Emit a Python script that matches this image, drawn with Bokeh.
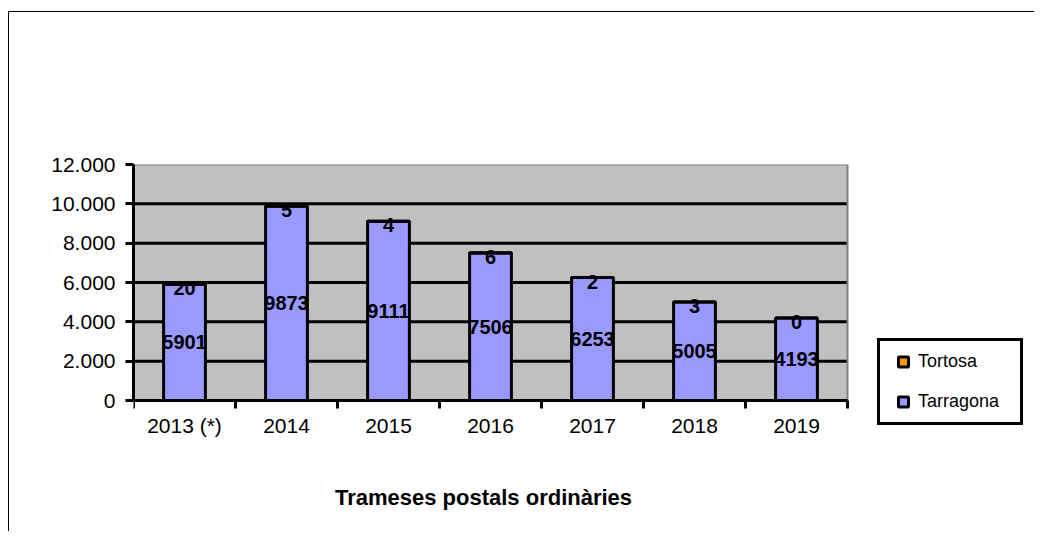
from bokeh.plotting import figure
from bokeh.models import (ColumnDataSource, Range1d, FixedTicker, Legend, LegendItem,
                          Label, LinearAxis)
from bokeh.core.properties import value
from bokeh.embed import file_html
from bokeh.resources import INLINE

categories = ["2013 (*)", "2014", "2015", "2016", "2017", "2018", "2019"]
tarragona = [5901, 9873, 9111, 7506, 6253, 5005, 4193]
tortosa = [20, 5, 4, 6, 2, 3, 0]
y_ticks = [0, 2000, 4000, 6000, 8000, 10000, 12000]
y_tick_labels = ["0", "2.000", "4.000", "6.000", "8.000", "10.000", "12.000"]
title_text = "Trameses postals ordinàries"

FONT = "Liberation Sans"
n = len(categories)
y_max = y_ticks[-1]
xs = [i + 0.5 for i in range(n)]
totals = [a + b for a, b in zip(tarragona, tortosa)]

src = ColumnDataSource(dict(
    x=xs,
    tarr=tarragona,
    tort=tortosa,
    total=totals,
    tarr_mid=[a / 2 for a in tarragona],
    tort_mid=[a + b / 2 for a, b in zip(tarragona, tortosa)],
    tarr_lbl=[str(v) for v in tarragona],
    tort_lbl=[str(v) for v in tortosa],
))

# layout (pixels): plot wall 714 px wide for the categories, 236 px tall for 0..y_max
PX_CAT = 102.0
PX_Y = 236.0 / y_max
FRAME_W, FRAME_H = 902, 366
BELOW_PX = FRAME_H - 236  # white space under the value axis inside the frame

p = figure(width=1026, height=520, output_backend="svg", toolbar_location=None,
           x_range=Range1d(0, FRAME_W / PX_CAT),
           y_range=Range1d(-BELOW_PX / PX_Y, y_max),
           x_axis_location=None, y_axis_location=None,
           min_border_left=124, min_border_right=0, min_border_top=152,
           min_border_bottom=2)
p.styles = {"border-top": "1px solid #000000", "border-left": "1px solid #000000",
            "margin-top": "11px", "margin-left": "8px"}
p.background_fill_color = "white"
p.border_fill_color = "white"
p.outline_line_color = None
p.grid.visible = False

# plot wall
p.quad(left=0, right=n, bottom=0, top=y_max, fill_color="#C0C0C0", line_color=None)
# gridlines
p.segment(x0=[0] * (len(y_ticks) - 2), x1=[n] * (len(y_ticks) - 2),
          y0=y_ticks[1:-1], y1=y_ticks[1:-1], line_color="black", line_width=3)
# wall edges (top and right)
p.segment(x0=[0, n], x1=[n, n], y0=[y_max, 0], y1=[y_max, y_max],
          line_color="#808080", line_width=2)

# y axis
yaxis = LinearAxis(ticker=FixedTicker(ticks=y_ticks), bounds=(0, y_max))
yaxis.major_label_overrides = {t: l for t, l in zip(y_ticks, y_tick_labels)}
yaxis.axis_line_width = 3
yaxis.major_tick_line_width = 3
yaxis.major_tick_out = 8
yaxis.major_tick_in = 0
yaxis.minor_tick_line_color = None
yaxis.major_label_standoff = 10
yaxis.major_label_text_font = FONT
yaxis.major_label_text_font_size = "21px"
yaxis.major_label_text_color = "black"
p.add_layout(yaxis, "left")

# bars
p.vbar(x="x", bottom=0, top="tarr", width=0.41, source=src,
       fill_color="#9999FF", line_color="black", line_width=3)
p.vbar(x="x", bottom="tarr", top="total", width=0.41, source=src,
       fill_color="#FF9900", line_color="black", line_width=3)

# x axis at value 0: labels at centers, ticks at boundaries
xaxis = LinearAxis(ticker=FixedTicker(ticks=xs, minor_ticks=list(range(n + 1))),
                   bounds=(0, n), fixed_location=0)
xaxis.major_label_overrides = {x: c for x, c in zip(xs, categories)}
xaxis.axis_line_width = 3
xaxis.major_tick_line_color = None
xaxis.minor_tick_line_width = 3
xaxis.minor_tick_out = 8
xaxis.minor_tick_in = 0
xaxis.major_label_standoff = 5
xaxis.major_label_text_font = FONT
xaxis.major_label_text_font_size = "21px"
xaxis.major_label_text_color = "black"
p.add_layout(xaxis, "below")

# value labels
p.text(x="x", y="tarr_mid", text="tarr_lbl", source=src, text_align="center",
       text_baseline="middle", text_font=value(FONT), text_font_size="20px",
       text_font_style="bold", text_color="black")
p.text(x="x", y="tort_mid", text="tort_lbl", source=src, text_align="center",
       text_baseline="middle", text_font=value(FONT), text_font_size="20px",
       text_font_style="bold", text_color="black", y_offset=4)

# legend (hidden marker renderers give the legend swatches)
r_tort = p.scatter(x="x", y="total", source=src, marker="square",
                   fill_color="#FF9900", line_color="black", line_width=3,
                   visible=False)
r_tarr = p.scatter(x="x", y="tarr", source=src, marker="square",
                   fill_color="#9999FF", line_color="black", line_width=3,
                   visible=False)
legend = Legend(items=[LegendItem(label="Tortosa", renderers=[r_tort], index=0),
                       LegendItem(label="Tarragona", renderers=[r_tarr], index=0)],
                location=(744, 105), orientation="vertical",
                glyph_width=30, glyph_height=25, label_height=22,
                label_standoff=0, label_width=94, spacing=15, padding=8,
                margin=0, border_line_color="black", border_line_width=3,
                border_line_alpha=1,
                background_fill_color="white", background_fill_alpha=1,
                label_text_font=FONT, label_text_font_size="18px",
                label_text_color="black")
p.add_layout(legend, "center")

# title below the chart
p.add_layout(Label(x=350, y=33, x_units="screen", y_units="screen",
                   text=title_text, text_align="center", text_baseline="alphabetic",
                   text_font=FONT, text_font_size="22px", text_font_style="bold",
                   text_color="black"))

open("out.html", "w").write(file_html(p, INLINE))
